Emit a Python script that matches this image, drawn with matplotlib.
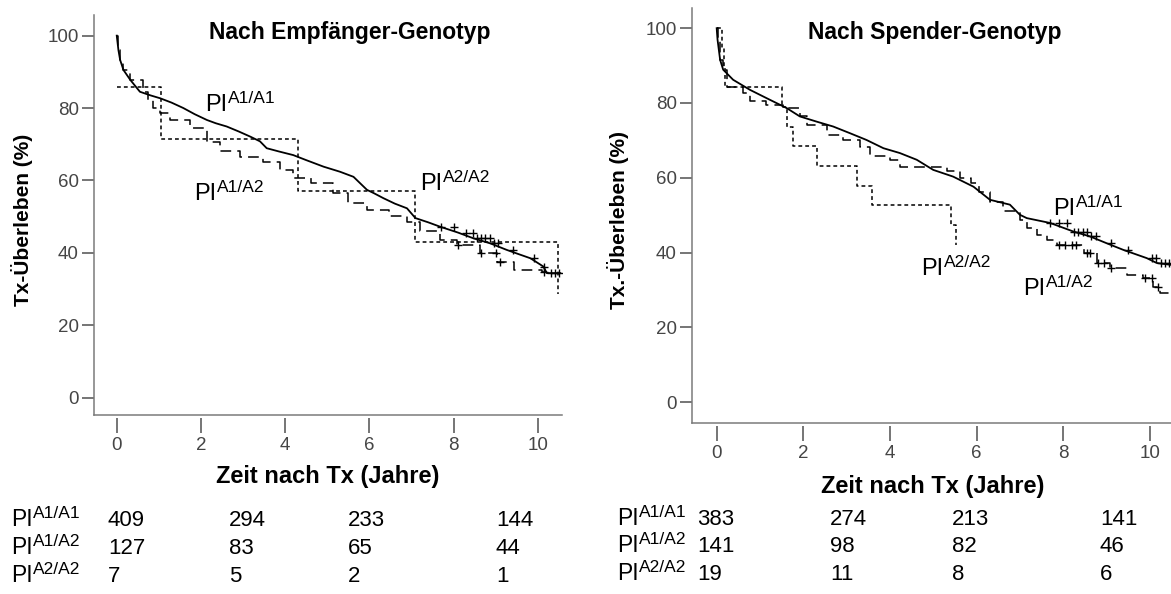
import numpy as np
import matplotlib
matplotlib.use('Agg')
import matplotlib.pyplot as plt

plt.rcParams['font.family'] = ['Liberation Sans', 'DejaVu Sans']

# --- Daten: Empfänger-Genotyp (links) ---
emp_a11_t = [0, 0.04, 0.08, 0.16, 0.32, 0.55, 0.8, 1.03, 1.3, 1.58, 1.85, 2.14, 2.35, 2.61, 2.9, 3.17,
             3.4, 3.56, 3.85, 4.19, 4.5, 4.91, 5.3, 5.62, 5.94, 6.1, 6.33, 6.6, 6.89, 7.09, 7.4, 7.68,
             8.1, 8.47, 8.87, 9.26, 9.55, 9.82, 10.13, 10.21, 10.53]
emp_a11_s = [100, 96, 93.3, 90.5, 87.8, 84.5, 83.5, 82.7, 81.5, 80.0, 78.3, 76.7, 75.8, 74.9, 73.5, 72.1,
             70.8, 68.9, 68.0, 67.0, 65.6, 63.8, 62.4, 61.0, 57.4, 56.5, 55.1, 53.6, 52.3, 49.6, 48.4, 47.2,
             45.6, 44.0, 42.6, 40.8, 39.6, 38.5, 36.2, 34.4, 34.4]
emp_a11_cens = [7.7, 8.0, 8.3, 8.45, 8.55, 8.65, 8.75, 8.85, 8.95, 9.05, 9.4, 9.9, 10.15, 10.3, 10.4, 10.5]

emp_a12_t = [0, 0.04, 0.08, 0.16, 0.32, 0.63, 0.75, 0.87, 1.03, 1.27, 1.74, 2.14, 2.45, 2.93, 3.48, 3.88,
             4.19, 4.61, 5.14, 5.49, 5.93, 6.46, 6.9, 7.2, 7.68, 8.08, 8.63, 9.03, 9.42, 10.1, 10.3]
emp_a12_s = [100, 96, 93.3, 90.5, 87.8, 84.5, 82.2, 80.0, 78.6, 76.7, 74.4, 70.7, 68.0, 66.6, 65.2, 62.9,
             60.6, 59.2, 56.5, 53.7, 51.9, 50.2, 48.6, 45.9, 43.6, 42.2, 39.9, 37.6, 35.3, 34.8, 34.8]
emp_a12_cens = [8.1, 8.65, 9.0, 9.1, 10.15]

emp_a22_t = [0, 1.05, 4.3, 7.09, 10.48]
emp_a22_s = [85.7, 71.4, 57.1, 42.9, 28.6]

# --- Daten: Spender-Genotyp (rechts) ---
spe_a11_t = [0, 0.02, 0.08, 0.15, 0.38, 0.77, 1.15, 1.62, 1.92, 2.31, 2.69, 3.08, 3.46, 3.85, 4.23, 4.62,
             5.0, 5.46, 5.93, 6.31, 6.77, 7.0, 7.16, 7.7, 8.24, 8.62, 9.0, 9.39, 9.93, 10.16, 10.49]
spe_a11_s = [100, 96.9, 91.5, 88.9, 86.2, 83.5, 81.3, 78.6, 76.4, 75.0, 73.7, 71.9, 70.1, 67.9, 66.6, 64.8,
             62.1, 60.3, 57.6, 54.1, 52.8, 50.1, 49.2, 47.9, 45.6, 44.3, 42.5, 40.7, 38.5, 37.2, 36.7]
spe_a11_cens = [7.7, 7.9, 8.1, 8.25, 8.35, 8.45, 8.55, 8.65, 8.75, 9.1, 9.5, 10.05, 10.15, 10.25, 10.35, 10.45]

spe_a12_t = [0, 0.02, 0.08, 0.15, 0.23, 0.61, 0.77, 1.15, 1.54, 1.92, 2.08, 2.54, 2.92, 3.31, 3.54, 4.0,
             4.23, 5.31, 5.62, 5.87, 6.05, 6.3, 6.62, 7.0, 7.16, 7.39, 7.62, 7.85, 8.47, 8.78, 9.08, 9.47,
             9.85, 10.08, 10.24, 10.47]
spe_a12_s = [100, 96.9, 91.5, 88.9, 84.4, 82.6, 80.4, 79.5, 78.6, 76.4, 74.1, 71.5, 70.1, 68.3, 65.7, 64.8,
             63.0, 61.7, 59.9, 58.6, 56.3, 53.5, 51.0, 48.7, 46.5, 44.7, 43.4, 42.1, 39.8, 37.2, 35.8, 34.0,
             33.2, 30.9, 29.1, 28.2]
spe_a12_cens = [7.9, 8.05, 8.2, 8.3, 8.55, 8.62, 8.8, 8.95, 9.1, 9.9, 10.05, 10.2]

spe_a22_t = [0, 0.12, 0.16, 0.19, 1.5, 1.62, 1.77, 2.31, 3.23, 3.58, 5.4, 5.53]
spe_a22_s = [100, 94.7, 89.5, 84.2, 78.9, 73.7, 68.4, 63.2, 57.9, 52.6, 47.4, 42.1]

# Patienten unter Risiko
gruppen = ['A1/A1', 'A1/A2', 'A2/A2']
emp_risk = [[409, 294, 233, 144], [127, 83, 65, 44], [7, 5, 2, 1]]
spe_risk = [[383, 274, 213, 141], [141, 98, 82, 46], [19, 11, 8, 6]]

W, H = 1171, 594
fig = plt.figure(figsize=(W / 100, H / 100), dpi=100)
gray = '#7a7a7a'


def px_axes(x0, y0, x1, y1):
    return fig.add_axes([x0 / W, 1 - y1 / H, (x1 - x0) / W, (y1 - y0) / H])


def ftext(x, y, s, **kw):
    fig.text(x / W, 1 - y / H, s, **kw)


def style(ax, xlim, ylim):
    ax.set_xlim(*xlim)
    ax.set_ylim(*ylim)
    ax.spines['top'].set_visible(False)
    ax.spines['right'].set_visible(False)
    ax.spines['left'].set_color(gray)
    ax.spines['left'].set_linewidth(1.1)
    ax.spines['bottom'].set_position(('outward', 2.2))
    ax.spines['bottom'].set_visible(False)
    ax.plot([0, 1], [0, 0], transform=ax.transAxes, color=gray, lw=1.1, clip_on=False)
    ax.set_xticks(range(0, 11, 2))
    ax.set_yticks(range(0, 101, 20))
    ax.tick_params(axis='y', direction='out', length=9, width=1.1, color='#505050',
                   labelsize=13.5, labelcolor='#454545', pad=2)
    ax.tick_params(axis='x', direction='out', length=11, width=1.1, color='#505050',
                   labelsize=13.5, labelcolor='#454545', pad=3)


def km(ax, t, s, cens, ls, steps):
    if steps:
        ax.step(t, s, where='post', color='black', lw=1.1, ls=ls)
    else:
        ax.plot(t, s, color='black', lw=1.3, ls=ls)
    if cens:
        idx = np.searchsorted(t, cens, side='right') - 1
        ax.plot(cens, np.array(s)[idx], ls='none', marker='+', ms=6, mew=1.0, color='black')


def pi_ax(ax, x, y, g):
    ax.text(x, y, 'PI', fontsize=17)
    ax.annotate(g, (x, y), xytext=(16.3, 5.8), textcoords='offset points', fontsize=12.5)


def pi_fig(x, y, g):
    ftext(x, y, 'PI', fontsize=16.5, va='baseline')
    ftext(x + 22, y - 8, g, fontsize=12.5, va='baseline')


# links
ax1 = px_axes(94, 15, 562, 415)
style(ax1, (-0.54, 10.57), (-4.8, 105.7))
km(ax1, emp_a11_t, emp_a11_s, emp_a11_cens, '-', False)
km(ax1, emp_a12_t, emp_a12_s, emp_a12_cens, (0, (7, 4)), True)
km(ax1, emp_a22_t, emp_a22_s, None, (0, (2.5, 2)), True)
pi_ax(ax1, 2.1, 79.3, 'A1/A1')
pi_ax(ax1, 1.84, 54.6, 'A1/A2')
pi_ax(ax1, 7.2, 57.3, 'A2/A2')

# rechts
ax2 = px_axes(692, 8, 1171, 423)
style(ax2, (-0.57, 10.49), (-5.6, 105.4))
km(ax2, spe_a11_t, spe_a11_s, spe_a11_cens, '-', False)
km(ax2, spe_a12_t, spe_a12_s, spe_a12_cens, (0, (7, 4)), True)
km(ax2, spe_a22_t, spe_a22_s, None, (0, (2.5, 2)), True)
pi_ax(ax2, 7.77, 50.1, 'A1/A1')
pi_ax(ax2, 7.08, 28.7, 'A1/A2')
pi_ax(ax2, 4.72, 34.0, 'A2/A2')

# Titel und Achsenbeschriftungen
ftext(350, 33, 'Nach Empfänger-Genotyp', ha='center', va='center', fontsize=16.5, fontweight='bold')
ftext(935, 33, 'Nach Spender-Genotyp', ha='center', va='center', fontsize=16.5, fontweight='bold')
ftext(328, 476, 'Zeit nach Tx (Jahre)', ha='center', va='center', fontsize=17, fontweight='bold')
ftext(933, 487, 'Zeit nach Tx (Jahre)', ha='center', va='center', fontsize=17, fontweight='bold')
ftext(22, 220, 'Tx-Überleben (%)', ha='center', va='center', rotation=90, fontsize=15, fontweight='bold')
ftext(618, 220, 'Tx.-Überleben (%)', ha='center', va='center', rotation=90, fontsize=15, fontweight='bold')

# Tabellen
for i, g in enumerate(gruppen):
    yb = 526 + i * 28
    pi_fig(11, yb, g)
    for x, v in zip([108, 229, 348, 496], emp_risk[i]):
        ftext(x, yb, str(v), fontsize=16, va='baseline')
    yb2 = 525 + i * 27.5
    pi_fig(617, yb2, g)
    for x, v in zip([697, 830, 952, 1100], spe_risk[i]):
        ftext(x, yb2, str(v), fontsize=16, va='baseline')

fig.savefig('out.png', dpi=100)
